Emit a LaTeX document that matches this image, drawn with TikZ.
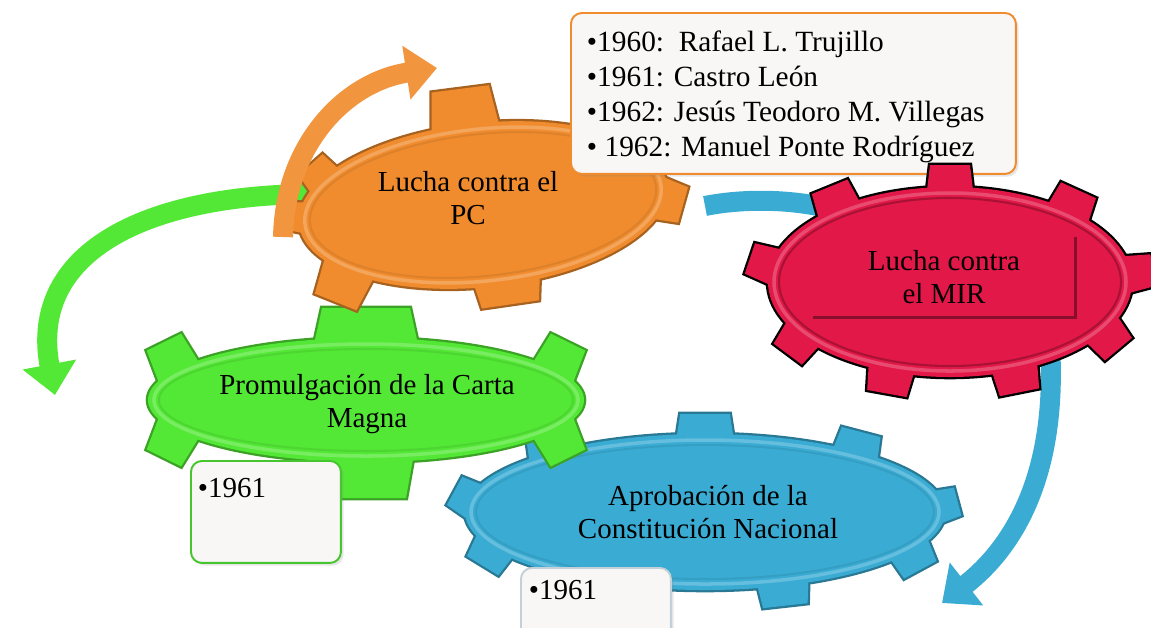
\documentclass[tikz,border=0pt]{standalone}
\usepackage{fontspec}
\setmainfont{Liberation Serif}
\usetikzlibrary{arrows.meta,shadows}
\definecolor{pcorange}{RGB}{240,140,46}
\definecolor{mirred}{RGB}{226,24,72}
\definecolor{cartagreen}{RGB}{84,232,54}
\definecolor{constblue}{RGB}{58,172,212}
\definecolor{paper}{RGB}{248,247,245}
\definecolor{boxedge}{RGB}{196,208,216}
\tikzset{>=Stealth,every node/.style={font=\fontsize{16.5}{18.5}\selectfont},
  band/.style={line width=0.4cm,-{Triangle[length=0.62cm,width=1.05cm]}},
  gtext/.style={align=center,inner sep=0pt},
  yearbox/.style={rounded corners=0.22cm,fill=paper,line width=1.1pt,anchor=north west,drop shadow={opacity=0.2,shadow xshift=1.5pt,shadow yshift=-1.5pt}},
  mirframe/.style={draw=mirred!60!black,line width=1.8pt}}
\newcommand{\teeth}[4]{\foreach \t/\w/\h in {#3}{\pgfmathsetmacro\ph{-atan2(#1*sin(\t),#2*cos(\t))}%
  \begin{scope}[shift={({#1*cos(\t)},{#2*sin(\t)})},rotate=\ph]\path[#4] (-20,-\w/2)--(\h,-0.4*\w)--(\h,0.4*\w)--(-20,\w/2)--cycle;\end{scope}}}
\newcommand{\gear}[8]{\begin{scope}[shift={(#1,#2)},rotate=#5]
  \teeth{#3}{#4}{#8}{fill=#6,draw=#7,line width=2.6pt}\path[fill=#6,draw=#7,line width=2.6pt] (0,0) ellipse({#3} and {#4});
  \teeth{#3}{#4}{#8}{fill=#6}\path[fill=#6] (0,0) ellipse({#3} and {#4});
  \path[draw=white,opacity=.22,line width=2pt] (0,0) ellipse({#3-6} and {#4-6});
  \path[draw=#7,opacity=.25,line width=1.2pt] (0,0) ellipse({#3-11} and {#4-11});
  \end{scope}}

\begin{document}
\begin{tikzpicture}[x=0.02cm,y=-0.02cm]
\useasboundingbox (0,0) rectangle (1151,627);
\coordinate (gs) at (325,194);\coordinate (ge) at (55,395);
\draw[band,cartagreen] (gs) .. controls (150,192) and (28,250) .. (ge);
\coordinate (bs) at (705,206);\coordinate (be) at (850,214);
\draw[line width=0.4cm,constblue] (bs) .. controls (745,198) and (800,198) .. (be);
\gear{705}{512}{240}{78}{0}{constblue}{constblue!70!black}{270/62/20,309/50/20,190/40/16,152/46/20,115/50/20,71/56/20,31/46/20,355/36/14,230/50/20}
\node[gtext] (const) at (708,512) {Aprobación de la\\Constitución Nacional};
\gear{366}{400}{218}{62}{0}{cartagreen}{cartagreen!70!black}{270/110/30,90/100/36,330/48/30,30/48/30,210/48/30,150/48/30}
\node[gtext] (carta) at (367,404) {Promulgación de la Carta\\Magna};
\gear{483}{205}{185}{82}{6}{pcorange}{pcorange!70!black}{267/72/36,10/46/18,85/72/20,140/56/32,185/34/12,212/40/18,325/46/22}
\node[gtext] (pc) at (468,198) {Lucha contra el\\PC};
\coordinate (os) at (283,237);\coordinate (oe) at (437,68);
\draw[band,pcorange!92!white] (os) .. controls (285,145) and (345,82) .. (oe);
\node[yearbox,draw=pcorange,inner xsep=0.32cm,inner ysep=0.36cm,font=\fontsize{16.7}{19.9}\selectfont] (leaders) at (570,12) {\begin{minipage}[c][2.5cm][t]{8.26cm}•1960:\ \ Rafael L. Trujillo\\•1961: Castro León\\•1962: Jesús Teodoro M. Villegas\\•\ 1962: Manuel Ponte Rodríguez\end{minipage}};
\coordinate (rs) at (1050,345);\coordinate (re) at (942,603);
\draw[band,constblue] (rs) .. controls (1058,480) and (1010,550) .. (re);
\gear{950}{282}{182}{95}{0}{mirred}{black}{270/50/22,232/48/22,311/48/22,190/40/22,145/44/22,109/50/22,69/50/22,32/44/22,355/40/22}
\node[gtext,minimum width=5.24cm,minimum height=1.6cm] (mir) at (944,277) {Lucha contra\\el MIR};
\draw[mirframe] (mir.north east)--(mir.south east)--(mir.south west);
\node[yearbox,draw=cartagreen!85!black,inner xsep=0.14cm,inner ysep=0.34cm] (cartayear) at (190,460) {\begin{minipage}[c][1.36cm][t]{2.72cm}•1961\end{minipage}};
\node[yearbox,draw=boxedge,inner xsep=0.16cm,inner ysep=0.24cm] (constyear) at (520,567) {\begin{minipage}[c][1.56cm][t]{2.68cm}•1961\end{minipage}};
\end{tikzpicture}
\end{document}
